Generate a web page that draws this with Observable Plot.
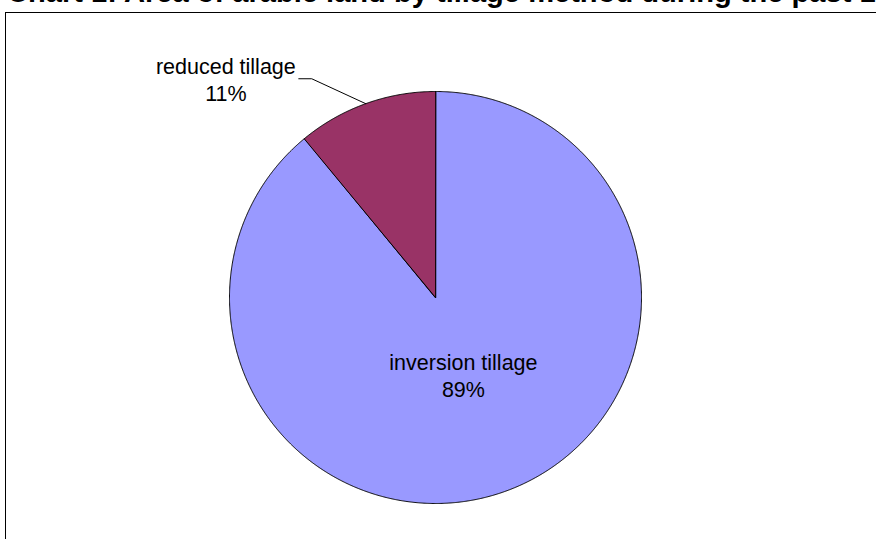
<!DOCTYPE html>
<html>
<head>
<meta charset="utf-8">
<script src="https://cdn.jsdelivr.net/npm/d3@7"></script>
<script src="https://cdn.jsdelivr.net/npm/@observablehq/plot@0.6"></script>
<style>
  html, body { margin: 0; padding: 0; background: #fff; overflow: hidden; }
  #wrap { position: relative; width: 876px; height: 539px; overflow: hidden; }
  #title { position: absolute; left: 7px; top: -22px; white-space: nowrap;
           font: bold 29.1px "Liberation Sans", Arial, sans-serif; line-height: 29.1px; color: #000; }
  #box { position: absolute; left: 5px; top: 12px; width: 1000px; height: 1000px;
         border-left: 1px solid #000; border-top: 1px solid #000; box-sizing: border-box; }
  #chart { position: absolute; left: 0; top: 0; }
</style>
</head>
<body>
<div id="wrap">
  <div id="title">Chart 1: Area of arable land by tillage method during the past 12 months</div>
  <div id="box"></div>
  <div id="chart"></div>
</div>
<script>
// ---- data ----
const categories = ["inversion tillage", "reduced tillage"];
const shares = [89, 11];
const sliceColors = ["#9999FF", "#993366"];

// ---- layout ----
const fontFamily = '"Liberation Sans", Arial, sans-serif';
const labelSize = 21.5;

const rows = categories.map((c, i) => ({category: c, value: shares[i], color: sliceColors[i]}));
const arcs = d3.pie().sort(null).value(d => d.value).startAngle(0).endAngle(2 * Math.PI)(rows);

const pt = (a, r) => [r * Math.sin(a), r * Math.cos(a)];
const step = Math.PI / 720;
function wedge(a0, a1) {
  const coords = [[0, 0]];
  const n = Math.max(2, Math.ceil((a1 - a0) / step));
  for (let k = 0; k <= n; ++k) coords.push(pt(a0 + (a1 - a0) * k / n, 1));
  coords.push([0, 0]);
  return coords;
}
const features = arcs.map(a => ({
  type: "Feature",
  properties: {category: a.data.category, color: a.data.color},
  geometry: {type: "Polygon", coordinates: [wedge(a.startAngle, a.endAngle)]}
}));
const outline = {type: "Polygon", coordinates: [wedge(0, 2 * Math.PI)]};

// labels
const labels = [];
const leaders = [];
arcs.forEach(a => {
  const mid = (a.startAngle + a.endAngle) / 2;
  const text = `${a.data.category}\n${a.data.value}%`;
  if (a.data.value > 20) {
    const [x, y] = pt(mid, 0.4);
    labels.push({x, y, text});
  } else {
    const p0 = pt(mid, 1);
    const p1 = [p0[0] - 0.262, p0[1] + 0.121];
    const p2 = [p1[0] - 0.063, p1[1]];
    leaders.push({x: p0[0], y: p0[1]}, {x: p1[0], y: p1[1]}, {x: p2[0], y: p2[1]});
    labels.push({x: p2[0] - 0.354, y: p2[1], text});
  }
});

const chart = Plot.plot({
  width: 876,
  height: 539,
  marginLeft: 229,
  marginRight: 235,
  marginTop: 91,
  marginBottom: 36,
  style: {background: "transparent", fontFamily},
  projection: {type: "reflect-y", domain: outline, clip: false},
  marks: [
    Plot.geo(features, {fill: d => d.properties.color, stroke: "#000", strokeWidth: 1}),
    Plot.line(leaders, {x: "x", y: "y", stroke: "#000", strokeWidth: 1}),
    Plot.text(labels, {x: "x", y: "y", text: "text", fontSize: labelSize, lineHeight: 1.24,
                       fill: "#000", textAnchor: "middle", fontFamily})
  ]
});
document.getElementById("chart").appendChild(chart);
</script>
</body>
</html>
